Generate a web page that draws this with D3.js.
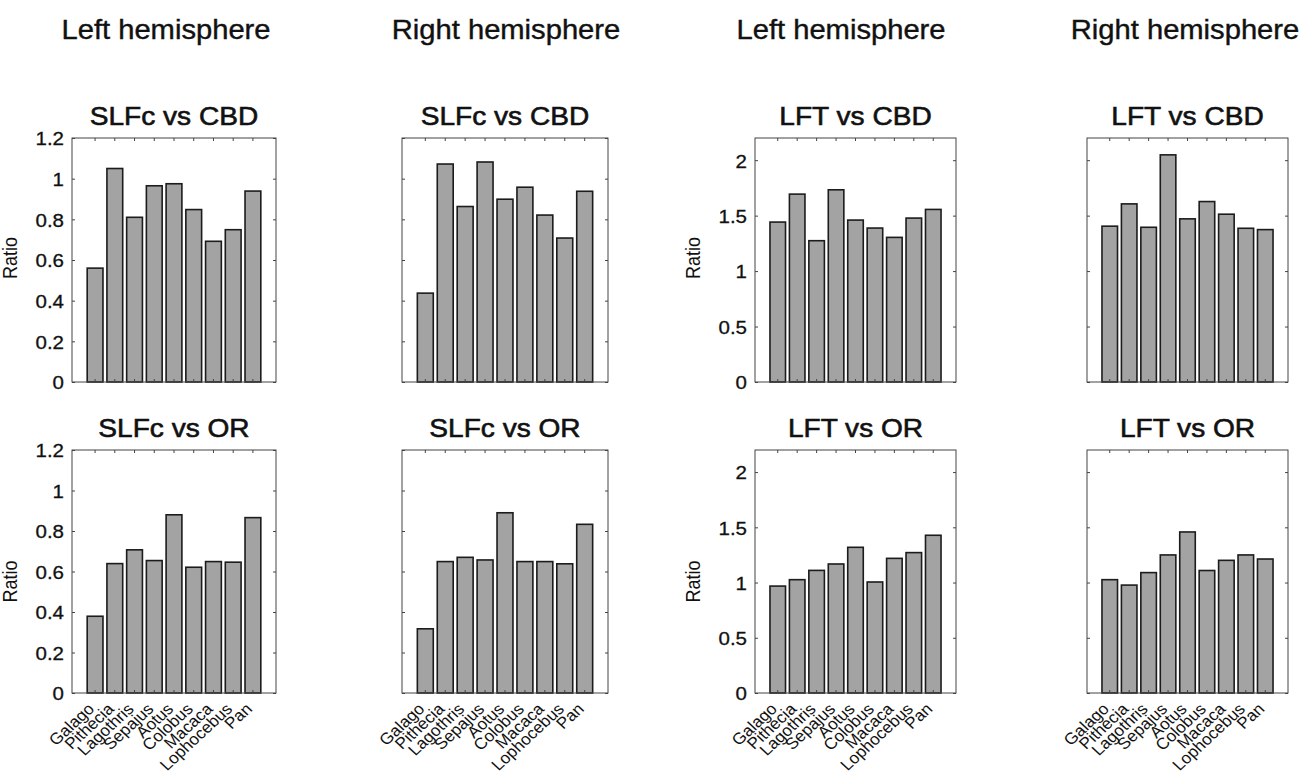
<!DOCTYPE html>
<html>
<head>
<meta charset="utf-8">
<script src="https://cdn.jsdelivr.net/npm/d3@7"></script>
<style>
  body { margin: 0; background: #fff; }
  text { font-family: "Liberation Sans", Arial, Helvetica, sans-serif; fill: #111; }
</style>
</head>
<body>
<svg width="1314" height="773"></svg>
<script>
// species on the x axis
const species = ['Galago', 'Pithecia', 'Lagothris', 'Sepajus', 'Aotus', 'Colobus', 'Macaca', 'Lophocebus', 'Pan'];
const hemispheres = ['Left hemisphere', 'Right hemisphere', 'Left hemisphere', 'Right hemisphere'];

// ratios
const slfcCbdLeft  = [0.56, 1.05, 0.81, 0.965, 0.975, 0.848, 0.692, 0.749, 0.939];
const slfcCbdRight = [0.437, 1.072, 0.863, 1.082, 0.899, 0.958, 0.821, 0.708, 0.938];
const lftCbdLeft   = [1.442, 1.694, 1.274, 1.733, 1.46, 1.388, 1.304, 1.478, 1.556];
const lftCbdRight  = [1.405, 1.606, 1.395, 2.048, 1.471, 1.627, 1.513, 1.386, 1.374];
const slfcOrLeft   = [0.379, 0.639, 0.707, 0.654, 0.88, 0.621, 0.649, 0.646, 0.866];
const slfcOrRight  = [0.317, 0.649, 0.67, 0.657, 0.89, 0.649, 0.649, 0.638, 0.833];
const lftOrLeft    = [0.968, 1.026, 1.11, 1.168, 1.319, 1.005, 1.219, 1.271, 1.428];
const lftOrRight   = [1.026, 0.977, 1.09, 1.25, 1.458, 1.109, 1.201, 1.25, 1.213];

// y axis limits and ticks
const slfcMax = 1.2;
const lftMax = 2.2;
const slfcTicks = [0, 0.2, 0.4, 0.6, 0.8, 1, 1.2];
const lftTicks = [0, 0.5, 1, 1.5, 2];

const panels = [
  { title: 'SLFc vs CBD', values: slfcCbdLeft,  ymax: slfcMax, ticks: slfcTicks, col: 0, row: 0 },
  { title: 'SLFc vs CBD', values: slfcCbdRight, ymax: slfcMax, ticks: slfcTicks, col: 1, row: 0 },
  { title: 'LFT vs CBD',  values: lftCbdLeft,   ymax: lftMax,  ticks: lftTicks,  col: 2, row: 0 },
  { title: 'LFT vs CBD',  values: lftCbdRight,  ymax: lftMax,  ticks: lftTicks,  col: 3, row: 0 },
  { title: 'SLFc vs OR',  values: slfcOrLeft,   ymax: slfcMax, ticks: slfcTicks, col: 0, row: 1 },
  { title: 'SLFc vs OR',  values: slfcOrRight,  ymax: slfcMax, ticks: slfcTicks, col: 1, row: 1 },
  { title: 'LFT vs OR',   values: lftOrLeft,    ymax: lftMax,  ticks: lftTicks,  col: 2, row: 1 },
  { title: 'LFT vs OR',   values: lftOrRight,   ymax: lftMax,  ticks: lftTicks,  col: 3, row: 1 }
];

// layout
const colX = [72, 402, 755, 1087];
const colW = [204, 206, 201, 201];
const rowY = [[138, 382], [450, 693]];
const headerX = [166, 506, 841, 1185];
const sx = 1.08; // the original figure is a bit stretched sideways

const svg = d3.select('svg');

// column headers
svg.selectAll('text.header')
  .data(hemispheres)
  .join('text')
  .attr('class', 'header')
  .attr('transform', (d, i) => `translate(${headerX[i]},39) scale(${sx},1)`)
  .attr('text-anchor', 'middle')
  .style('font-size', '27px')
  .style('stroke', '#111')
  .style('stroke-width', 0.4)
  .text(d => d);

panels.forEach(p => {
  const x0 = colX[p.col];
  const w = colW[p.col];
  const top = rowY[p.row][0];
  const bottom = rowY[p.row][1];
  const showLabels = p.col % 2 === 0;

  const x = d3.scaleBand()
    .domain(species)
    .range([x0, x0 + w])
    .paddingInner(0.2)
    .paddingOuter(0.77);

  const y = d3.scaleLinear()
    .domain([0, p.ymax])
    .range([bottom, top]);

  const g = svg.append('g');

  // title
  g.append('text')
    .attr('transform', `translate(${x0 + w / 2},${top - 13}) scale(${sx},1)`)
    .attr('text-anchor', 'middle')
    .style('font-size', '26px')
    .style('stroke', '#111')
    .style('stroke-width', 0.6)
    .text(p.title);

  // bars
  g.selectAll('rect.bar')
    .data(p.values)
    .join('rect')
    .attr('class', 'bar')
    .attr('x', (d, i) => x(species[i]))
    .attr('y', d => y(d))
    .attr('width', x.bandwidth())
    .attr('height', d => y(0) - y(d))
    .attr('fill', '#a3a3a3')
    .attr('stroke', '#1c1c1c')
    .attr('stroke-width', 1.6);

  // axes with inward ticks (box on)
  const left = g.append('g')
    .attr('transform', `translate(${x0},0)`)
    .call(d3.axisLeft(y).tickValues(p.ticks).tickSize(-3).tickPadding(9)
      .tickFormat(showLabels ? (d => d3.format('~g')(d)) : ''));
  const right = g.append('g')
    .attr('transform', `translate(${x0 + w},0)`)
    .call(d3.axisRight(y).tickValues(p.ticks).tickSize(-3).tickFormat(''));
  const topAx = g.append('g')
    .attr('transform', `translate(0,${top})`)
    .call(d3.axisTop(x).tickSize(-3).tickFormat(''));
  const bottomAx = g.append('g')
    .attr('transform', `translate(0,${bottom})`)
    .call(d3.axisBottom(x).tickSize(-3).tickFormat(p.row === 1 ? (d => d) : ''));

  [left, right, topAx, bottomAx].forEach(a => {
    a.select('.domain').remove();
    a.selectAll('line').attr('stroke', '#444');
  });

  left.selectAll('text')
    .attr('x', null)
    .attr('dy', '0.36em')
    .attr('transform', `translate(-8,0) scale(${sx},1)`)
    .style('font-size', '19px')
    .style('stroke', '#111')
    .style('stroke-width', 0.3)
    .style('font-family', null);

  // rotated species names
  bottomAx.selectAll('text')
    .attr('y', null)
    .attr('dy', '0.35em')
    .attr('text-anchor', 'end')
    .attr('transform', `translate(-4,13) scale(${sx},1) rotate(-45)`)
    .style('font-size', '16px')
    .style('font-family', null);

  // frame
  g.append('rect')
    .attr('x', x0)
    .attr('y', top)
    .attr('width', w)
    .attr('height', bottom - top)
    .attr('fill', 'none')
    .attr('stroke', '#444')
    .attr('stroke-width', 1);

  if (showLabels) {
    const ly = (top + bottom) / 2 + (p.row === 1 ? 10 : -2);
    g.append('text')
      .attr('transform', `translate(${x0 - 55},${ly}) scale(${sx},1) rotate(-90)`)
      .attr('text-anchor', 'middle')
      .style('font-size', '18px')
      .text('Ratio');
  }
});
</script>
</body>
</html>
